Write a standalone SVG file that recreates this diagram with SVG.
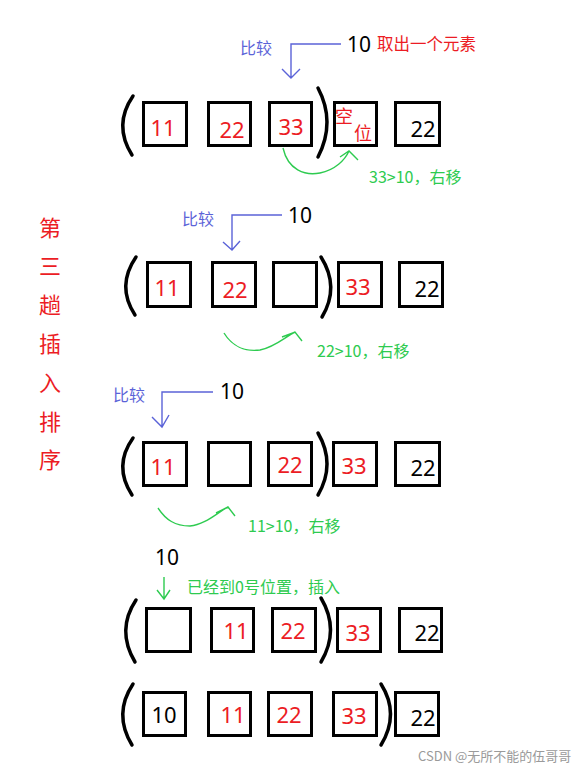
<svg xmlns="http://www.w3.org/2000/svg" width="585" height="773" viewBox="0 0 585 773">
<defs>
<style>
.box{fill:none;stroke:#000;stroke-width:3}
.par{fill:none;stroke:#000;stroke-width:3.5;stroke-linecap:round}
.num{font-family:"Noto Sans","Noto Sans CJK SC",sans-serif;font-size:22px;text-anchor:middle}
.r{fill:#ec1c24}
.k{fill:#000}
.blue{fill:none;stroke:#5b63d8;stroke-width:1.4}
.green{fill:none;stroke:#2ecb50;stroke-width:1.4}
.bt{font-family:"Noto Sans CJK SC","Noto Sans",sans-serif;font-size:16px;fill:#5b63d8}
.gt{font-family:"Noto Sans CJK SC","Noto Sans",sans-serif;font-size:16px;fill:#2ecb50}
.ten{font-family:"Noto Sans","Noto Sans CJK SC",sans-serif;font-size:21px;fill:#000}
.title{font-family:"Noto Sans CJK SC",sans-serif;font-size:22px;fill:#ec1c24;text-anchor:middle}
</style>
</defs>
<rect width="585" height="773" fill="#fff"/>

<g id="title">
<text class="title" x="50" y="236">第</text>
<text class="title" x="50" y="274">三</text>
<text class="title" x="50" y="313">趟</text>
<text class="title" x="50" y="352">插</text>
<text class="title" x="50" y="391">入</text>
<text class="title" x="50" y="430">排</text>
<text class="title" x="50" y="468">序</text>
</g>

<g id="row1">
<path class="par" d="M133 96 Q113 125 132 155"/>
<path class="par" d="M318 88 Q336 122 318 157"/>
<rect class="box" x="143.5" y="102.5" width="43" height="43"/>
<rect class="box" x="208.5" y="102.5" width="42" height="43"/>
<rect class="box" x="269.5" y="102.5" width="42" height="43"/>
<rect class="box" x="334.5" y="102.5" width="42" height="43"/>
<rect class="box" x="395.5" y="102.5" width="44" height="43"/>
<text class="num r" x="163" y="136">11</text>
<text class="num r" x="232" y="138">22</text>
<text class="num r" x="291" y="135">33</text>
<text class="r" x="344" y="123" font-family="Noto Sans CJK SC,sans-serif" font-size="18" text-anchor="middle">空</text>
<text class="r" x="363" y="140" font-family="Noto Sans CJK SC,sans-serif" font-size="18" text-anchor="middle">位</text>
<text class="num k" x="423" y="137">22</text>
</g>

<g id="row2">
<path class="par" d="M136 257 Q116 286 135 315"/>
<path class="par" d="M321 257 Q340 287 322 317"/>
<rect class="box" x="147.5" y="262.5" width="43" height="44"/>
<rect class="box" x="212.5" y="262.5" width="43" height="44"/>
<rect class="box" x="273.5" y="262.5" width="43" height="44"/>
<rect class="box" x="338.5" y="262.5" width="43" height="44"/>
<rect class="box" x="399.5" y="262.5" width="43" height="44"/>
<text class="num r" x="167" y="296">11</text>
<text class="num r" x="235" y="298">22</text>
<text class="num r" x="358" y="295">33</text>
<text class="num k" x="427" y="297">22</text>
</g>

<g id="row3">
<path class="par" d="M133 438 Q113 466 132 495"/>
<path class="par" d="M318 433 Q336 464 318 495"/>
<rect class="box" x="143.5" y="442.5" width="43" height="43"/>
<rect class="box" x="208.5" y="442.5" width="42" height="43"/>
<rect class="box" x="268.5" y="442.5" width="43" height="43"/>
<rect class="box" x="333.5" y="442.5" width="43" height="43"/>
<rect class="box" x="395.5" y="442.5" width="44" height="43"/>
<text class="num r" x="163" y="475">11</text>
<text class="num r" x="290" y="473">22</text>
<text class="num r" x="354" y="474">33</text>
<text class="num k" x="423" y="476">22</text>
</g>

<g id="row4">
<path class="par" d="M136 600 Q116 630 135 662"/>
<path class="par" d="M321 598 Q340 630 321 662"/>
<rect class="box" x="146.5" y="608.5" width="44" height="43"/>
<rect class="box" x="211.5" y="608.5" width="42" height="43"/>
<rect class="box" x="272.5" y="608.5" width="43" height="43"/>
<rect class="box" x="337.5" y="608.5" width="43" height="43"/>
<rect class="box" x="399.5" y="608.5" width="42" height="43"/>
<text class="num r" x="236" y="639">11</text>
<text class="num r" x="293" y="639">22</text>
<text class="num r" x="358" y="641">33</text>
<text class="num k" x="427" y="641">22</text>
</g>

<g id="row5">
<path class="par" d="M133 684 Q113 714 132 745"/>
<path class="par" d="M381 684 Q400 714 381 745"/>
<rect class="box" x="143.5" y="692.5" width="42" height="43"/>
<rect class="box" x="208.5" y="692.5" width="42" height="43"/>
<rect class="box" x="268.5" y="692.5" width="43" height="43"/>
<rect class="box" x="333.5" y="692.5" width="43" height="43"/>
<rect class="box" x="395.5" y="692.5" width="43" height="43"/>
<text class="num k" x="164" y="723">10</text>
<text class="num r" x="233" y="723">11</text>
<text class="num r" x="289" y="723">22</text>
<text class="num r" x="354" y="724">33</text>
<text class="num k" x="423" y="726">22</text>
</g>

<g id="connectors">
<path class="blue" d="M341 44 H291 V78 M282 69 L291 78 L300 69"/>
<path class="green" d="M283 148 C288 170 305 176 320 173 C335 170 345 160 349 151 M340 157 L349 151 L358 160"/>
<path class="blue" d="M282 215 H232 V250 M223 242 L232 250 L240 241"/>
<path class="green" d="M224 333 C232 346 245 352 260 350 C275 347 285 337 295 332 M282 337 L295 332 L302 341"/>
<path class="blue" d="M213 392 H162 V427 M152 417 L162 427 L169 415"/>
<path class="green" d="M158 508 C166 520 175 526 190 526 C205 525 218 512 228 507 M216 513 L228 507 L235 516"/>
<path class="green" d="M164 577 V599 M157 590 L164 599 L170 590"/>
</g>

<g id="labels">
<text class="bt" x="240" y="54">比较</text>
<text class="ten" x="347" y="52">10</text>
<text x="377" y="50" font-family="Noto Sans CJK SC,sans-serif" font-size="16.5" fill="#ec1c24">取出一个元素</text>
<text class="gt" x="369" y="183">33&gt;10，右移</text>

<text class="bt" x="182" y="225">比较</text>
<text class="ten" x="288" y="223">10</text>
<text class="gt" x="317" y="357">22&gt;10，右移</text>

<text class="bt" x="113" y="401">比较</text>
<text class="ten" x="220" y="399">10</text>
<text class="gt" x="248" y="532">11&gt;10，右移</text>

<text class="ten" x="155" y="565">10</text>
<text class="gt" x="187" y="593" font-size="16.5">已经到0号位置，插入</text>

<text x="418" y="761" font-family="Noto Sans CJK SC,sans-serif" font-size="13" fill="#9a9a9a">CSDN @无所不能的伍哥哥</text>
</g>
</svg>
